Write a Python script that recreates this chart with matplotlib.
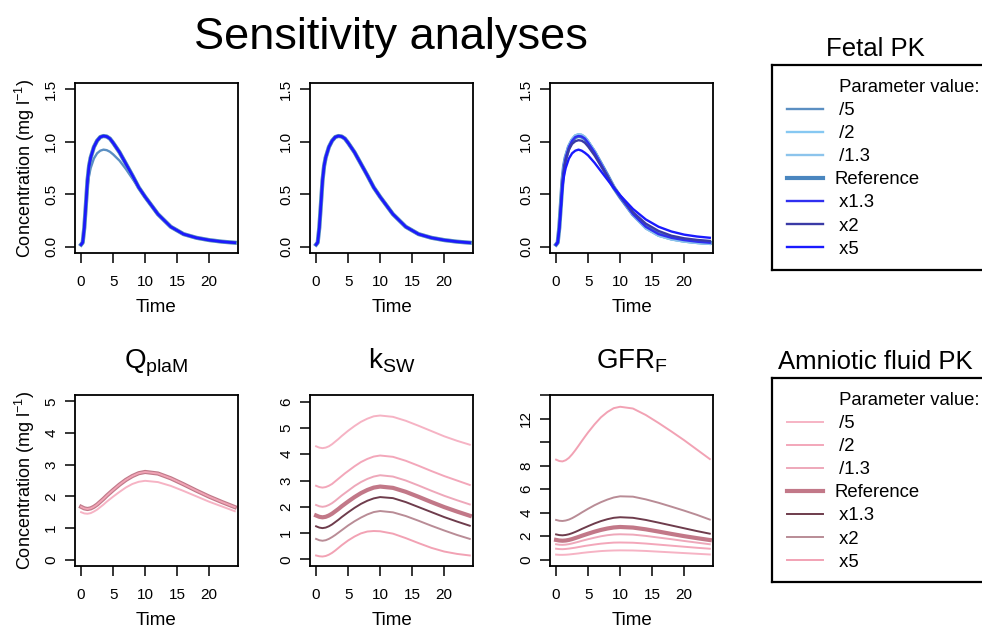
import matplotlib
matplotlib.use('Agg')
import matplotlib.pyplot as plt
from matplotlib.lines import Line2D

plt.rcParams['font.family'] = ['Liberation Sans', 'DejaVu Sans']
plt.rcParams['mathtext.fontset'] = 'custom'
plt.rcParams['mathtext.rm'] = 'Liberation Sans'
plt.rcParams['mathtext.it'] = 'Liberation Sans:italic'

# time points (h) for fetal curves
time_f = [0, 0.25, 0.5, 0.75, 1, 1.25, 1.5, 2, 2.5, 3, 3.5, 4, 4.5, 5, 6, 7, 8, 9, 10, 12, 14, 16, 18, 20, 22, 24]
# time points (h) for amniotic fluid curves
time_a = [0, 0.5, 1, 1.5, 2, 2.5, 3, 3.5, 4, 4.5, 5, 6, 7, 8, 9, 10, 12, 14, 16, 18, 20, 22, 24]

# fetal PK curves (mg/l)
fetal_ref = [0.02, 0.04, 0.18, 0.40, 0.63, 0.77, 0.85, 0.95, 1.01, 1.045, 1.055, 1.05, 1.03, 0.99, 0.90,
             0.79, 0.68, 0.565, 0.475, 0.31, 0.19, 0.12, 0.085, 0.063, 0.048, 0.038]
fetal_qpla_div5 = [0.02, 0.04, 0.17, 0.37, 0.57, 0.68, 0.75, 0.84, 0.89, 0.915, 0.925, 0.92, 0.905, 0.88, 0.82,
                   0.74, 0.65, 0.56, 0.47, 0.31, 0.19, 0.12, 0.085, 0.063, 0.048, 0.038]
fetal_gfr_div = [0.02, 0.04, 0.18, 0.41, 0.64, 0.78, 0.86, 0.965, 1.025, 1.06, 1.07, 1.065, 1.045, 1.005, 0.91,
                 0.795, 0.68, 0.575, 0.48, 0.30, 0.175, 0.105, 0.07, 0.049, 0.036, 0.027]
fetal_gfr_x2 = [0.02, 0.04, 0.18, 0.39, 0.61, 0.74, 0.82, 0.925, 0.98, 1.005, 1.015, 1.01, 0.99, 0.955, 0.87,
                0.77, 0.67, 0.57, 0.485, 0.33, 0.22, 0.15, 0.105, 0.08, 0.065, 0.055]
fetal_gfr_x5 = [0.02, 0.04, 0.17, 0.37, 0.57, 0.68, 0.75, 0.84, 0.89, 0.915, 0.925, 0.915, 0.895, 0.87, 0.80,
                0.72, 0.64, 0.56, 0.49, 0.36, 0.26, 0.19, 0.145, 0.115, 0.097, 0.085]

# amniotic fluid PK curves (mg/l)
amn_ref = [1.67, 1.62, 1.60, 1.62, 1.67, 1.74, 1.83, 1.92, 2.02, 2.11, 2.20, 2.37, 2.52, 2.64,
           2.73, 2.77, 2.72, 2.57, 2.38, 2.18, 1.99, 1.82, 1.66]
amn_qpla_div5 = [1.50, 1.46, 1.45, 1.47, 1.52, 1.58, 1.66, 1.74, 1.83, 1.91, 1.99, 2.14, 2.28, 2.39,
                 2.46, 2.49, 2.45, 2.33, 2.17, 2.00, 1.83, 1.68, 1.53]

ksw_div5 = [4.30, 4.25, 4.23, 4.25, 4.30, 4.38, 4.48, 4.58, 4.69, 4.79, 4.89, 5.07, 5.23, 5.35,
            5.44, 5.47, 5.42, 5.27, 5.08, 4.88, 4.68, 4.51, 4.36]
ksw_div2 = [2.80, 2.75, 2.73, 2.75, 2.80, 2.87, 2.97, 3.07, 3.17, 3.27, 3.36, 3.54, 3.70, 3.82,
            3.91, 3.95, 3.90, 3.75, 3.56, 3.36, 3.17, 3.00, 2.83]
ksw_div13 = [2.07, 2.02, 2.00, 2.02, 2.07, 2.14, 2.23, 2.33, 2.43, 2.52, 2.61, 2.79, 2.94, 3.06,
             3.15, 3.20, 3.15, 3.00, 2.81, 2.61, 2.42, 2.25, 2.09]
ksw_x13 = [1.26, 1.21, 1.19, 1.21, 1.26, 1.33, 1.42, 1.51, 1.61, 1.70, 1.79, 1.96, 2.11, 2.23,
           2.32, 2.37, 2.33, 2.18, 1.99, 1.80, 1.61, 1.44, 1.28]
ksw_x2 = [0.78, 0.73, 0.71, 0.73, 0.78, 0.85, 0.93, 1.02, 1.11, 1.20, 1.29, 1.45, 1.59, 1.71,
          1.80, 1.84, 1.79, 1.65, 1.47, 1.28, 1.10, 0.93, 0.78]
ksw_x5 = [0.15, 0.12, 0.11, 0.13, 0.18, 0.25, 0.34, 0.44, 0.54, 0.63, 0.72, 0.87, 0.99, 1.06,
          1.08, 1.07, 0.98, 0.81, 0.62, 0.44, 0.30, 0.21, 0.15]

gfr_div5 = [0.42, 0.40, 0.40, 0.41, 0.43, 0.46, 0.49, 0.52, 0.56, 0.59, 0.62, 0.67, 0.72, 0.75,
            0.77, 0.78, 0.77, 0.73, 0.67, 0.61, 0.55, 0.49, 0.43]
gfr_div2 = [0.92, 0.89, 0.88, 0.90, 0.93, 0.97, 1.01, 1.06, 1.11, 1.16, 1.20, 1.28, 1.35, 1.40,
            1.44, 1.45, 1.43, 1.36, 1.27, 1.18, 1.09, 1.00, 0.92]
gfr_div13 = [1.30, 1.26, 1.25, 1.27, 1.31, 1.37, 1.44, 1.51, 1.59, 1.66, 1.73, 1.86, 1.98, 2.07,
             2.13, 2.15, 2.12, 2.01, 1.87, 1.73, 1.58, 1.44, 1.30]
gfr_x13 = [2.14, 2.08, 2.06, 2.09, 2.15, 2.24, 2.35, 2.47, 2.60, 2.72, 2.84, 3.07, 3.27, 3.43,
           3.55, 3.60, 3.55, 3.37, 3.14, 2.90, 2.66, 2.42, 2.20]
gfr_x2 = [3.37, 3.30, 3.28, 3.32, 3.40, 3.52, 3.67, 3.83, 4.00, 4.16, 4.32, 4.62, 4.88, 5.10,
          5.28, 5.38, 5.35, 5.12, 4.83, 4.50, 4.16, 3.80, 3.40]
gfr_x5 = [8.50, 8.38, 8.35, 8.45, 8.65, 8.95, 9.30, 9.68, 10.07, 10.45, 10.82, 11.50, 12.10, 12.55,
          12.88, 13.00, 12.85, 12.30, 11.62, 10.90, 10.15, 9.35, 8.55]

labels = ['/5', '/2', '/1.3', 'Reference', 'x1.3', 'x2', 'x5']
fetal_colors = ['#5b8fc2', '#86c8f2', '#8cc4ec', '#4a86bf', '#2f2ff0', '#3a3aa6', '#1a1aff']
amn_colors = ['#f6b3c4', '#f3a7ba', '#eea8ba', '#c27888', '#6e3c4c', '#b98c96', '#f2a2b4']

# series per panel, in legend order
top_panels = [
    [fetal_qpla_div5, fetal_ref, fetal_ref, fetal_ref, fetal_ref, fetal_ref, fetal_ref],
    [fetal_ref, fetal_ref, fetal_ref, fetal_ref, fetal_ref, fetal_ref, fetal_ref],
    [fetal_gfr_div, fetal_gfr_div, fetal_gfr_div, fetal_ref, fetal_ref, fetal_gfr_x2, fetal_gfr_x5],
]
bottom_panels = [
    [amn_qpla_div5, amn_ref, amn_ref, amn_ref, amn_ref, amn_ref, amn_ref],
    [ksw_div5, ksw_div2, ksw_div13, amn_ref, ksw_x13, ksw_x2, ksw_x5],
    [gfr_div5, gfr_div2, gfr_div13, amn_ref, gfr_x13, gfr_x2, gfr_x5],
]
col_titles = [r'$\mathregular{Q_{plaM}}$', r'$\mathregular{k_{SW}}$', r'$\mathregular{GFR_{F}}$']

fig = plt.figure(figsize=(9.82, 6.29), dpi=100)
W, H = 982, 629
lefts = [75, 310, 550]
pw = 163


def style_axes(ax):
    for s in ax.spines.values():
        s.set_linewidth(1.3)
    ax.tick_params(direction='out', length=7, width=1.1, labelsize=11)
    ax.tick_params(axis='x', pad=9)
    ax.tick_params(axis='y', pad=5)
    for lab in ax.get_yticklabels():
        lab.set_rotation(90)
        lab.set_va('center')
    ax.set_xlabel('Time', fontsize=13.5, labelpad=7)


def draw(ax, t, series, colors, thin):
    lines = {}
    for i in [3, 0, 1, 2, 4, 5, 6]:
        lw = 3.0 if i == 3 else thin
        ln, = ax.plot(t, series[i], color=colors[i], lw=lw)
        lines[i] = ln
    return [lines[i] for i in range(7)]


for c in range(3):
    ax = fig.add_axes([lefts[c] / W, 1 - 253 / H, pw / W, 170 / H])
    handles_top = draw(ax, time_f, top_panels[c], fetal_colors, 1.7)
    ax.set_xlim(-0.95, 24.5)
    ax.set_ylim(-0.06, 1.56)
    ax.set_xticks([0, 5, 10, 15, 20])
    ax.set_yticks([0, 0.5, 1.0, 1.5])
    ax.set_yticklabels(['0.0', '0.5', '1.0', '1.5'])
    style_axes(ax)
    if c == 0:
        ax.set_ylabel('Concentration (mg l$^{\\mathregular{-1}}$)', fontsize=13, labelpad=5)
        fetal_handles = handles_top

ylims = [(-0.2, 5.2), (-0.25, 6.25), (-0.55, 14.0)]
yticks = [[0, 1, 2, 3, 4, 5], [0, 1, 2, 3, 4, 5, 6], [0, 2, 4, 6, 8, 10, 12, 14]]
yticklabels = [['0', '1', '2', '3', '4', '5'], ['0', '1', '2', '3', '4', '5', '6'],
               ['0', '2', '4', '6', '8', '', '12', '']]
for c in range(3):
    ax = fig.add_axes([lefts[c] / W, 1 - 566 / H, pw / W, 171 / H])
    handles_bot = draw(ax, time_a, bottom_panels[c], amn_colors, 1.4)
    ax.set_xlim(-0.95, 24.5)
    ax.set_ylim(*ylims[c])
    ax.set_xticks([0, 5, 10, 15, 20])
    ax.set_yticks(yticks[c])
    ax.set_yticklabels(yticklabels[c])
    style_axes(ax)
    ax.set_title(col_titles[c], fontsize=20, pad=19)
    if c == 0:
        ax.set_ylabel('Concentration (mg l$^{\\mathregular{-1}}$)', fontsize=13, labelpad=5)
        amn_handles = handles_bot

fig.text(391 / W, 1 - 49 / H, 'Sensitivity analyses', fontsize=32.5, ha='center', va='baseline')


def legend_box(top_px, bottom_px, title, handles):
    lax = fig.add_axes([772 / W, 1 - bottom_px / H, 0.3, (bottom_px - top_px) / H])
    lax.set_xticks([])
    lax.set_yticks([])
    lax.patch.set_alpha(0)
    for s in lax.spines.values():
        s.set_linewidth(1.6)
    fig.text(875 / W, 1 - (top_px - 9) / H, title, fontsize=18.5, ha='center', va='baseline')
    blank = Line2D([], [], color='none')
    labs = [' Parameter value:'] + [(' ' + l if l != 'Reference' else l) for l in labels]
    h = 1 - (14 / (bottom_px - top_px))
    lax.legend([blank] + handles, labs, loc='upper left', bbox_to_anchor=(15 / 294.6, h),
               frameon=False, fontsize=13.3, handlelength=1.95, handletextpad=0.6,
               labelspacing=0.33, borderaxespad=0, borderpad=0)


legend_box(65, 270, 'Fetal PK', fetal_handles)
legend_box(378, 582, 'Amniotic fluid PK', amn_handles)

fig.savefig('out.png', dpi=100)
